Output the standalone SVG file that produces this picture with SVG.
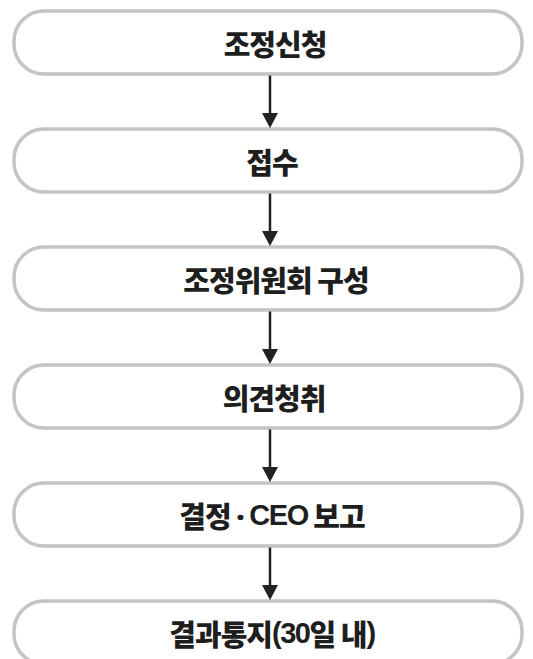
<svg xmlns="http://www.w3.org/2000/svg" width="533" height="659" viewBox="0 0 533 659">
<defs>
<style>
.box{fill:#fff;stroke:#c4c4c4;stroke-width:3.5}
.lbl{font-family:"Noto Sans CJK KR","Noto Sans",sans-serif;font-weight:900;font-size:29px;fill:#1e1e1e;text-anchor:middle;dominant-baseline:central;letter-spacing:-1px}
.conn{stroke:#222;stroke-width:2.5;fill:none}
.head{fill:#222}
.dot{font-family:"Noto Sans",sans-serif}
.lat{font-family:"Liberation Sans",sans-serif;font-weight:700;letter-spacing:-1.5px}
</style>
</defs>
<rect width="533" height="659" fill="#fff"/>
<g id="n1"><rect class="box" x="14" y="11" width="508" height="63" rx="30"/><text class="lbl" x="275" y="42.5">조정신청</text></g>
<g id="n2"><rect class="box" x="14" y="129" width="508" height="63" rx="30"/><text class="lbl" x="272" y="160.5">접수</text></g>
<g id="n3"><rect class="box" x="14" y="247" width="508" height="63" rx="30"/><text class="lbl" x="276" y="278.5">조정위원회 구성</text></g>
<g id="n4"><rect class="box" x="14" y="365" width="508" height="63" rx="30"/><text class="lbl" x="274" y="396.5">의견청취</text></g>
<g id="n5"><rect class="box" x="14" y="483" width="508" height="63" rx="30"/><text class="lbl" x="272" y="514.5">결정 <tspan class="dot">·</tspan> <tspan class="lat">CEO</tspan> 보고</text></g>
<g id="n6"><rect class="box" x="14" y="601" width="508" height="63" rx="30"/><text class="lbl" x="272" y="632.5">결과통지<tspan class="lat">(30</tspan>일 내<tspan class="lat">)</tspan></text></g>
<g id="connectors">
<line class="conn" x1="270" y1="75.5" x2="270" y2="116"/>
<path class="head" d="M262,113 L278,113 L270,128 Z"/>
<line class="conn" x1="270" y1="193.5" x2="270" y2="234"/>
<path class="head" d="M262,231 L278,231 L270,246 Z"/>
<line class="conn" x1="270" y1="311.5" x2="270" y2="352"/>
<path class="head" d="M262,349 L278,349 L270,364 Z"/>
<line class="conn" x1="270" y1="429.5" x2="270" y2="470"/>
<path class="head" d="M262,467 L278,467 L270,482 Z"/>
<line class="conn" x1="270" y1="547.5" x2="270" y2="588"/>
<path class="head" d="M262,585 L278,585 L270,600 Z"/>
</g>
</svg>
